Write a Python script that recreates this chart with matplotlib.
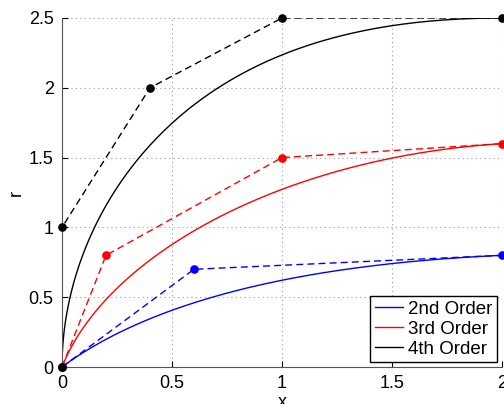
import numpy as np
import matplotlib
matplotlib.use("Agg")
import matplotlib.pyplot as plt
from math import comb

plt.rcParams['font.family'] = ['Liberation Sans', 'DejaVu Sans']

# Control points of the Bezier curves
ctrl2_x = [0, 0.6, 2]
ctrl2_y = [0, 0.7, 0.8]
ctrl3_x = [0, 0.2, 1, 2]
ctrl3_y = [0, 0.8, 1.5, 1.6]
ctrl4_x = [0, 0, 0.4, 1, 2]
ctrl4_y = [0, 1, 2, 2.5, 2.5]
labels = ["2nd Order", "3rd Order", "4th Order"]
colors = ["blue", "red", "black"]
xticks = [0, 0.5, 1, 1.5, 2]
yticks = [0, 0.5, 1, 1.5, 2, 2.5]


def bezier(px, py, n=300):
    t = np.linspace(0, 1, n)
    k = len(px) - 1
    bx = np.zeros_like(t)
    by = np.zeros_like(t)
    for i in range(k + 1):
        b = comb(k, i) * t**i * (1 - t)**(k - i)
        bx += b * px[i]
        by += b * py[i]
    return bx, by


fig = plt.figure(figsize=(5.04, 4.04), dpi=100)
ax = fig.add_axes([62/504, 37/404, 440/504, 349/404])

ctrls = [(ctrl2_x, ctrl2_y), (ctrl3_x, ctrl3_y), (ctrl4_x, ctrl4_y)]
handles = []
for (px, py), c, lab in zip(ctrls, colors, labels):
    bx, by = bezier(px, py)
    h, = ax.plot(bx, by, '-', color=c, lw=1.0, label=lab)
    handles.append(h)
    ax.plot(px, py, '--', color=c, lw=1.0, dashes=(5, 3))
    ax.plot(px, py, 'o', color=c, ms=5.2, ls='none', clip_on=False, zorder=5)

ax.set_xlim(0, 2)
ax.set_ylim(0, 2.5)
ax.set_xticks(xticks)
ax.set_xticklabels(["0", "0.5", "1", "1.5", "2"])
ax.set_yticks(yticks)
ax.set_yticklabels(["0", "0.5", "1", "1.5", "2", "2.5"])
ax.grid(True, linestyle=(0, (1, 3)), color='#999999', lw=0.8)
ax.tick_params(direction='in', length=4, labelsize=13, colors='black', pad=6)
ax.spines['top'].set_visible(False)
ax.spines['right'].set_visible(False)
ax.spines['left'].set_color('#555555')
ax.spines['bottom'].set_color('#555555')
ax.set_xlabel("x", fontsize=13, labelpad=1)
ax.set_ylabel("r", fontsize=13, labelpad=3)

leg = ax.legend(handles=handles, loc='lower right', fontsize=13.5, frameon=True,
                fancybox=False, edgecolor='black', framealpha=1,
                borderaxespad=0.25, handlelength=1.5, labelspacing=0.15,
                borderpad=0.25, handletextpad=0.3)
leg.get_frame().set_linewidth(1.0)

fig.savefig("out.png", dpi=100)
